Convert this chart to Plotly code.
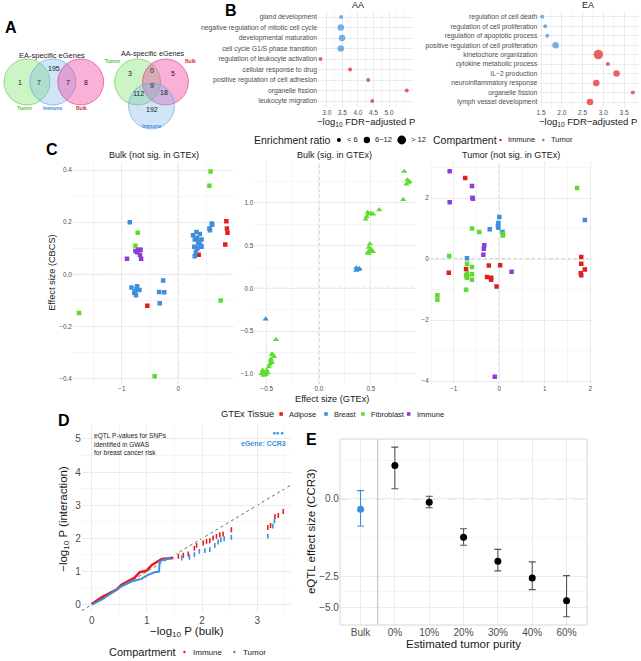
import numpy as np
import plotly.graph_objects as go

W, H = 641, 661
FONT = "Liberation Sans"
RED, BLUE, GREEN, PURPLE = "#E11F1F", "#3D8EDC", "#5CDC2C", "#8C3ED6"
GRID, MINOR, TICK = "#EBEBEB", "#F5F5F5", "#4D4D4D"

# ---------- A: Venn counts
ea_regions = ["Tumor", "Tumor+Immune", "Immune", "Immune+Bulk", "Bulk"]
ea_counts = [1, 7, 195, 7, 8]
aa_regions = ["Tumor", "Tumor+Bulk", "Bulk", "All", "Tumor+Immune", "Immune+Bulk", "Immune"]
aa_counts = [3, 0, 5, 9, 112, 18, 192]

# ---------- B: enrichment
aa_terms = ["gland development", "negative regulation of mitotic cell cycle",
            "developmental maturation", "cell cycle G1/S phase transition",
            "regulation of leukocyte activation", "cellular response to drug",
            "positive regulation of cell adhesion", "organelle fission", "leukocyte migration"]
aa_logp = [3.46, 3.45, 3.49, 3.45, 2.80, 3.75, 4.33, 5.57, 4.46]
aa_comp = ["Tumor"] * 4 + ["Immune"] * 5
aa_ratio = ["< 6", "6−12", "6−12", "6−12", "< 6", "< 6", "< 6", "< 6", "< 6"]

ea_terms = ["regulation of cell death", "regulation of cell proliferation",
            "regulation of apoptotic process", "positive regulation of cell proliferation",
            "kinetochore organization", "cytokine metabolic process", "IL−2 production",
            "neuroinflammatory response", "organelle fission", "lymph vessel development"]
ea_logp = [1.53, 1.60, 1.65, 1.85, 2.88, 3.11, 3.32, 2.83, 3.71, 2.68]
ea_comp = ["Tumor"] * 4 + ["Immune"] * 6
ea_ratio = ["< 6", "< 6", "< 6", "6−12", "> 12", "< 6", "6−12", "6−12", "< 6", "6−12"]

# ---------- C: effect sizes (GTEx x, CBCS y)
bulk_ns_adipose = [(-0.55, -0.12), (0.36, 0.075), (0.85, 0.204), (0.86, 0.176), (0.87, 0.16), (0.83, 0.115)]
bulk_ns_breast = [(-0.86, 0.2), (-0.83, -0.05), (-0.73, -0.045), (-0.69, -0.06), (-0.77, -0.065),
                  (-0.75, -0.08), (-0.78, -0.07), (-0.74, -0.055), (-0.27, -0.023), (-0.34, -0.067),
                  (-0.25, -0.068), (-0.33, -0.11), (0.26, 0.15), (0.32, 0.163), (0.38, 0.155),
                  (0.41, 0.134), (0.29, 0.134), (0.35, 0.119), (0.41, 0.106), (0.28, 0.106),
                  (0.34, 0.1), (0.40, 0.11), (0.31, 0.087), (0.29, 0.07), (0.33, 0.14), (0.37, 0.125),
                  (0.59, 0.195), (0.60, 0.19), (0.55, 0.176), (0.56, 0.169)]
bulk_ns_fibro = [(0.57, 0.395), (0.55, 0.34), (-0.72, 0.16), (-0.76, 0.11), (-1.76, -0.148),
                 (-0.42, -0.39), (0.75, -0.10)]
bulk_ns_immune = [(-0.76, 0.09), (-0.71, 0.095), (-0.67, 0.095), (-0.68, 0.075), (-0.66, 0.06),
                  (-0.73, 0.085), (-0.91, 0.06)]

bulk_sig_breast = [(0.36, 0.24), (0.37, 0.22), (0.39, 0.23), (0.36, 0.21), (0.38, 0.22), (-0.51, -0.36)]
bulk_sig_fibro = [(0.82, 1.37), (0.85, 1.27), (0.86, 1.24), (0.84, 1.22), (0.87, 1.25), (0.81, 1.04),
                  (0.58, 0.92), (0.47, 0.89), (0.52, 0.87), (0.48, 0.87), (0.50, 0.88), (0.45, 0.81),
                  (0.46, 0.84), (0.49, 0.52), (0.48, 0.48), (0.50, 0.46), (0.47, 0.42), (0.52, 0.43),
                  (0.49, 0.44), (0.48, 0.41), (-0.41, -0.6), (-0.45, -0.77), (-0.43, -0.80),
                  (-0.46, -0.83), (-0.45, -0.87), (-0.47, -0.89), (-0.48, -0.92), (-0.50, -0.96),
                  (-0.53, -0.98), (-0.54, -0.96), (-0.51, -1.01), (-0.53, -1.02), (-0.49, -0.99),
                  (-0.46, -0.85), (-0.44, -0.78), (-0.55, -1.0)]

tumor_ns_adipose = [(-0.75, 2.66), (1.80, 0.07), (1.80, -0.15), (1.88, -0.34), (1.79, -0.46), (1.80, -0.53),
                    (0.02, -0.2), (-0.23, -0.21), (-1.11, -0.45), (-0.73, -0.32), (-0.71, -0.59),
                    (-0.27, -0.59), (-0.18, -0.61), (-0.18, -0.68), (-0.06, -0.9)]
tumor_ns_breast = [(1.88, 1.28), (0.0, 1.38), (-0.02, 1.18), (-0.03, 1.1), (-0.02, 1.03), (-0.21, 0.98),
                   (0.07, 0.89), (-0.71, 0.03)]
tumor_ns_fibro = [(1.71, 2.33), (-0.6, 1.0), (-0.44, 0.89), (0.08, 0.82), (0.08, 0.77), (-1.1, 0.1),
                  (-0.71, -0.15), (-0.6, -0.26), (-0.71, -0.46), (-0.73, -0.53), (-0.71, -0.61),
                  (-0.6, -0.5), (-0.6, -0.68), (-0.73, -1.0), (-1.36, -1.18), (-1.36, -1.33)]
tumor_ns_immune = [(-1.09, 2.88), (-0.6, 2.39), (-0.59, 2.01), (-0.58, 1.98), (-1.09, 1.86), (-0.33, 0.45),
                   (-0.34, 0.34), (-0.35, 0.14), (0.27, -0.41), (-0.1, -3.85)]

# ---------- D: QQ of -log10 P
immune_dense_bulk = [0, 0.18, 0.36, 0.45, 0.54, 0.66, 0.78, 0.87, 0.99, 1.09, 1.18, 1.27, 1.48]
immune_dense_int = [0.02, 0.22, 0.38, 0.45, 0.60, 0.72, 0.82, 0.98, 1.02, 1.20, 1.30, 1.38, 1.41]
immune_bulk = [1.57, 1.66, 1.75, 1.86, 1.90, 2.02, 2.08, 2.14, 2.20, 2.26, 2.32, 2.38, 2.53, 3.19, 3.24, 3.32, 3.38, 3.47]
immune_int = [1.46, 1.49, 1.53, 1.70, 1.79, 1.86, 1.91, 1.93, 2.01, 2.06, 2.11, 2.13, 2.26, 2.33, 2.39, 2.66, 2.69, 2.81]
tumor_dense_bulk = [0, 0.18, 0.36, 0.54, 0.72, 0.90, 1.02, 1.14, 1.22, 1.23, 1.29, 1.44]
tumor_dense_int = [0, 0.15, 0.35, 0.55, 0.70, 0.78, 0.90, 0.98, 1.00, 1.30, 1.35, 1.41]
tumor_bulk = [1.63, 1.77, 1.86, 1.95, 2.05, 2.14, 2.23, 2.29, 2.34, 2.40, 2.53, 3.19, 3.28, 3.31]
tumor_int = [1.41, 1.43, 1.51, 1.61, 1.63, 1.66, 1.79, 1.89, 1.96, 1.99, 2.03, 2.07, 2.37, 2.52]
ccr3_bulk = [3.31, 3.37, 3.45]
ccr3_int = [5.17, 5.17, 5.17]

# ---------- E: CCR3 eQTL effect by purity
purity_labels = ["Bulk", "0%", "10%", "20%", "30%", "40%", "60%"]
ccr3_beta = [-0.22, 0.78, -0.07, -0.91, -1.76, -2.61, -4.35]
ccr3_upper = [0.18, 1.35, 0.06, -0.68, -1.30, -1.79, -2.48]
ccr3_lower = [-0.61, 0.22, -0.19, -1.16, -2.22, -3.40, -6.17]

SIZE = {"< 6": 4, "6−12": 6.5, "> 12": 9.5}
COMP = {"Immune": RED, "Tumor": BLUE}


def dx(a, b):
    return [a / W, b / W]


def dy(top, bottom):
    return [1 - bottom / H, 1 - top / H]


def ax(dom, rng, anchor, size, **kw):
    d = dict(domain=dom, range=rng, anchor=anchor, showgrid=True, gridcolor=GRID, gridwidth=0.8,
             zeroline=False, showline=False, ticks="", fixedrange=True,
             tickfont=dict(family=FONT, size=size, color=TICK))
    d.update(kw)
    return d


def minor(step):
    return dict(dtick=step, showgrid=True, gridcolor=MINOR, gridwidth=0.5)


fig = go.Figure()

# B scatter
for terms, logp, comp, ratio, xa, ya in [(aa_terms, aa_logp, aa_comp, aa_ratio, "x", "y"),
                                         (ea_terms, ea_logp, ea_comp, ea_ratio, "x2", "y2")]:
    for c in ["Immune", "Tumor"]:
        idx = [i for i in range(len(terms)) if comp[i] == c]
        fig.add_trace(go.Scatter(
            x=[logp[i] for i in idx], y=[terms[i] for i in idx], mode="markers", xaxis=xa, yaxis=ya,
            marker=dict(size=[SIZE[ratio[i]] for i in idx], color=COMP[c], line=dict(width=0))))

# C scatter
panels = [
    ("x3", "y3", "square", [(bulk_ns_adipose, RED), (bulk_ns_breast, BLUE), (bulk_ns_fibro, GREEN), (bulk_ns_immune, PURPLE)]),
    ("x4", "y4", "triangle-up", [(bulk_sig_breast, BLUE), (bulk_sig_fibro, GREEN)]),
    ("x5", "y5", "square", [(tumor_ns_adipose, RED), (tumor_ns_breast, BLUE), (tumor_ns_fibro, GREEN), (tumor_ns_immune, PURPLE)]),
]
for xa, ya, sym, groups in panels:
    for pts, col in groups:
        fig.add_trace(go.Scatter(
            x=[p[0] for p in pts], y=[p[1] for p in pts], mode="markers", xaxis=xa, yaxis=ya,
            marker=dict(symbol=sym, size=4.5 if sym == "square" else 5.5, color=col, line=dict(width=0))))

# D
fig.add_trace(go.Scatter(x=immune_dense_bulk, y=immune_dense_int, mode="lines", xaxis="x6", yaxis="y6",
                         line=dict(color=RED, width=2.6)))
fig.add_trace(go.Scatter(x=tumor_dense_bulk, y=tumor_dense_int, mode="lines", xaxis="x6", yaxis="y6",
                         line=dict(color=BLUE, width=2.0)))
fig.add_trace(go.Scatter(x=immune_bulk, y=immune_int, mode="markers", xaxis="x6", yaxis="y6",
                         marker=dict(symbol="line-ns", size=3.5, line=dict(color=RED, width=1.6))))
fig.add_trace(go.Scatter(x=tumor_bulk, y=tumor_int, mode="markers", xaxis="x6", yaxis="y6",
                         marker=dict(symbol="line-ns", size=3.5, line=dict(color=BLUE, width=1.6))))
fig.add_trace(go.Scatter(x=ccr3_bulk, y=ccr3_int, mode="markers", xaxis="x6", yaxis="y6",
                         marker=dict(symbol="circle", size=2.6, color=BLUE)))

# E (pseudo-log y scale)
t_beta = np.arcsinh(ccr3_beta)
t_up = np.arcsinh(ccr3_upper) - t_beta
t_lo = t_beta - np.arcsinh(ccr3_lower)
for sl, col, ecol in [(slice(0, 1), BLUE, BLUE), (slice(1, None), "#000000", "#555555")]:
    fig.add_trace(go.Scatter(
        x=purity_labels[sl], y=t_beta[sl], mode="markers", xaxis="x7", yaxis="y7",
        marker=dict(size=7, color=col),
        error_y=dict(type="data", symmetric=False, array=t_up[sl], arrayminus=t_lo[sl],
                     color=ecol, thickness=1.1, width=3.5)))

ann = []


def note(x, y, text, size, color="#1A1A1A", xanchor="center", yanchor="middle", angle=0, align="left"):
    ann.append(dict(x=x / W, y=1 - y / H, xref="paper", yref="paper", text=text, showarrow=False,
                    xanchor=xanchor, yanchor=yanchor, textangle=angle, align=align,
                    font=dict(family=FONT, size=size, color=color)))


shapes = []


def circle(cx, cy, r, fill, line, lw=0.8):
    shapes.append(dict(type="circle", xref="paper", yref="paper", x0=(cx - r) / W, x1=(cx + r) / W,
                       y0=1 - (cy + r) / H, y1=1 - (cy - r) / H, fillcolor=fill, line=dict(color=line, width=lw)))


def square(cx, cy, h, fill):
    shapes.append(dict(type="rect", xref="paper", yref="paper", x0=(cx - h) / W, x1=(cx + h) / W,
                       y0=1 - (cy + h) / H, y1=1 - (cy - h) / H, fillcolor=fill, line=dict(width=0)))


# panel letters
for letter, x, y in [("A", 9, 28), ("B", 230, 10), ("C", 50, 149), ("D", 62, 420), ("E", 310, 440)]:
    note(x, y, "<b>" + letter + "</b>", 16, "#000000")

# A: Venn diagrams
G_FILL, B_FILL, P_FILL = "rgba(120,225,100,0.38)", "rgba(120,180,235,0.35)", "rgba(240,70,160,0.42)"
G_LINE, B_LINE, P_LINE = "rgba(80,190,60,0.7)", "rgba(80,150,215,0.7)", "rgba(215,40,120,0.7)"
note(50, 55, "EA-specific eGenes", 7.5)
circle(25, 82, 23, G_FILL, G_LINE)
circle(51, 82, 23, B_FILL, B_LINE)
circle(79, 82, 23, P_FILL, P_LINE)
for (x, y), n in zip([(18, 82), (37, 82), (52, 68), (66, 82), (84, 82)], ea_counts):
    note(x, y, str(n), 7)
note(23, 108, "<b>Tumor</b>", 5, "#55C83A")
note(51, 108, "<b>Immune</b>", 5, "#4A8FD6")
note(80, 108, "<b>Bulk</b>", 5, "#D8293A")

note(151, 53, "AA-specific eGenes", 7.2)
circle(136, 82, 23, G_FILL, G_LINE)
circle(164, 82, 23, P_FILL, P_LINE)
circle(150, 106, 23, B_FILL, B_LINE)
for (x, y), n in zip([(128, 74), (150, 71), (172, 74), (150, 86), (137, 93), (163, 92), (150, 109)], aa_counts):
    note(x, y, str(n), 7)
note(111, 61, "<b>Tumor</b>", 5, "#55C83A")
note(189, 61, "<b>Bulk</b>", 5, "#D8293A")
note(150, 126, "<b>Immune</b>", 5, "#4A8FD6")

# B titles
note(357, 5, "AA", 9)
note(588, 5, "EA", 9)
note(365, 122, "−log<sub>10</sub> FDR−adjusted P", 9.5)
note(588, 122, "−log<sub>10</sub> FDR−adjusted P", 9.5)
# B legend
note(251, 140, "Enrichment ratio", 10.5, xanchor="left")
circle(338, 140, 2.0, "#000000", "#000000", 0)
note(344, 140, "< 6", 7.5, xanchor="left")
circle(366, 140, 3.2, "#000000", "#000000", 0)
note(372, 140, "6−12", 7.5, xanchor="left")
circle(401, 140, 4.4, "#000000", "#000000", 0)
note(408, 140, "> 12", 7.5, xanchor="left")
note(430, 140, "Compartment", 10.5, xanchor="left")
circle(500, 140, 1.2, RED, RED, 0)
note(506, 140, "Immune", 7.5, xanchor="left")
circle(543, 140, 1.2, BLUE, BLUE, 0)
note(549, 140, "Tumor", 7.5, xanchor="left")

# C titles
note(152, 155, "Bulk (not sig. in GTEx)", 9)
note(334, 155, "Bulk (sig. in GTEx)", 9)
note(511, 155, "Tumor (not sig. in GTEx)", 9)
note(50, 273, "Effect size (CBCS)", 9.2, angle=-90)
note(331, 399, "Effect size (GTEx)", 9.2)
note(218, 414, "GTEx Tissue", 9.3, xanchor="left")
for cx, col, lab in [(280, RED, "Adipose"), (325, BLUE, "Breast"), (362, GREEN, "Fibroblast"), (408, PURPLE, "Immune")]:
    square(cx, 414, 1.8, col)
    note(cx + 6, 414, lab, 7.5, xanchor="left")

# C zero lines
for xa, ya in [("x3", "y3"), ("x4", "y4"), ("x5", "y5")]:
    shapes.append(dict(type="line", xref=xa, yref=ya + " domain", x0=0, x1=0, y0=0, y1=1, layer="below",
                       line=dict(color="#555555", width=0.7, dash="dot")))
    shapes.append(dict(type="line", xref=xa + " domain", yref=ya, x0=0, x1=1, y0=0, y1=0, layer="below",
                       line=dict(color="#555555", width=0.7, dash="dot")))

# D
shapes.append(dict(type="line", xref="x6", yref="y6", x0=-0.18, y0=-0.18, x1=3.63, y1=3.63, layer="below",
                   line=dict(color="#444444", width=0.8, dash="dot")))
note(90, 444, "eQTL P-values for SNPs<br>identified in GWAS<br>for breast cancer risk", 6.6, xanchor="left")
note(287, 443, "<b>eGene: CCR3</b>", 7, BLUE, xanchor="right")
note(62, 519, "−log<sub>10</sub> P (interaction)", 11.5, angle=-90)
note(186, 632, "−log<sub>10</sub> P (bulk)", 11.5)
note(105, 652, "Compartment", 11, xanchor="left")
circle(183, 652, 1.2, RED, RED, 0)
note(190, 652, "Immune", 8, xanchor="left")
circle(233, 652, 1.2, BLUE, BLUE, 0)
note(240, 652, "Tumor", 8, xanchor="left")

# E
shapes.append(dict(type="line", xref="x7", yref="y7 domain", x0=0.5, x1=0.5, y0=0, y1=1,
                   line=dict(color="#BBBBBB", width=1)))
shapes.append(dict(type="line", xref="x7 domain", yref="y7", x0=0, x1=1, y0=0, y1=0, layer="below",
                   line=dict(color="#CCCCCC", width=0.8, dash="dash")))
shapes.append(dict(type="rect", xref="x7 domain", yref="y7 domain", x0=0, x1=1, y0=0, y1=1,
                   line=dict(color="#D6D6D6", width=1)))
note(310, 532, "eQTL effect size (CCR3)", 11.5, angle=-90)
note(463, 644, "Estimated tumor purity", 11.5)

e_ticks = [-5.0, -2.5, 0.0]
e_major = np.arcsinh(e_ticks)
e_minor = list((e_major[:-1] + e_major[1:]) / 2) + [np.arcsinh(2.5) / 2]

fig.update_layout(
    width=W, height=H, margin=dict(l=0, r=0, t=0, b=0), showlegend=False,
    paper_bgcolor="white", plot_bgcolor="white", font=dict(family=FONT, color="#1A1A1A"),
    xaxis=ax(dx(317, 412), [2.72, 5.76], "y", 6.5, tickmode="array", tickvals=[3.0, 3.5, 4.0, 4.5, 5.0],
             ticktext=["3.0", "3.5", "4.0", "4.5", "5.0"], minor=minor(0.25)),
    yaxis=ax(dy(10.7, 107.3), [8.6, -0.6], "x", 6.8, type="category", categoryorder="array",
             categoryarray=aa_terms),
    xaxis2=ax(dx(538, 639), [1.435, 3.86], "y2", 6.5, tick0=1.5, dtick=0.5, tickformat=".1f", minor=minor(0.25)),
    yaxis2=ax(dy(11, 107.7), [9.6, -0.6], "x2", 6.8, type="category", categoryorder="array",
              categoryarray=ea_terms),
    xaxis3=ax(dx(71, 233), [-1.87, 0.99], "y3", 6.3, dtick=1, minor=minor(0.5)),
    yaxis3=ax(dy(162, 384), [-0.42, 0.431], "x3", 6.3, dtick=0.2, tickformat=".1f", minor=minor(0.1)),
    xaxis4=ax(dx(253, 415), [-0.62, 0.93], "y4", 6.3, dtick=0.5, tickformat=".1f", minor=minor(0.25)),
    yaxis4=ax(dy(162, 384), [-1.12, 1.48], "x4", 6.3, dtick=0.5, tickformat=".1f", minor=minor(0.25)),
    xaxis5=ax(dx(429, 592), [-1.53, 2.04], "y5", 6.3, dtick=1, minor=minor(0.5)),
    yaxis5=ax(dy(162, 384), [-4.09, 3.18], "x5", 6.3, dtick=2, minor=minor(1)),
    xaxis6=ax(dx(80, 291), [-0.18, 3.63], "y6", 10, dtick=1, minor=minor(0.5)),
    yaxis6=ax(dy(425, 613), [-0.25, 5.42], "x6", 10, dtick=1, minor=minor(0.5)),
    xaxis7=ax(dx(339, 587), [-0.6, 6.6], "y7", 10, type="category", categoryorder="array",
              categoryarray=purity_labels),
    yaxis7=ax(dy(439, 625), [-2.695, 1.283], "x7", 10, tickmode="array", tickvals=list(e_major),
              ticktext=["−5.0", "−2.5", "0.0"],
              minor=dict(tickmode="array", tickvals=e_minor, showgrid=True, gridcolor=MINOR, gridwidth=0.5)),
    annotations=ann, shapes=shapes,
)

# drop the browser's default body margin so the 641x661 figure fills the window exactly
fig.write_html("out.html", config={"displayModeBar": False},
               post_script="document.body.style.margin='0';document.body.style.overflow='hidden';")
